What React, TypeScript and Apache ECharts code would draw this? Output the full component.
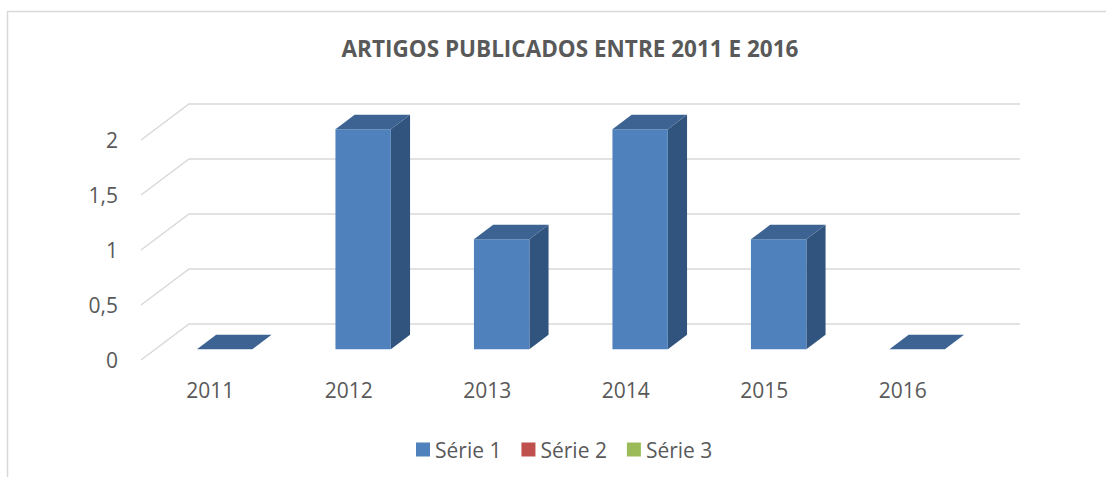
import React, { useEffect, useRef } from "react";
import * as echarts from "echarts";

const categories = ["2011", "2012", "2013", "2014", "2015", "2016"];
const serie1Values = [0, 2, 1, 2, 1, 0];
const serie2Values: number[] = [];
const serie3Values: number[] = [];
const yTicks = [0, 0.5, 1, 1.5, 2];
const seriesNames = ["Série 1", "Série 2", "Série 3"];
const titleText = "ARTIGOS PUBLICADOS ENTRE 2011 E 2016";

const DX = 48;
const DY = -36;
const FONT = "'Open Sans', sans-serif";
const TEXT = "#595959";

const BLUE = { front: "#4f81bd", side: "#31547e", top: "#3c6392" };
const RED = "#c0504d";
const GREEN = "#9bbb59";

function barRenderer(colors: { front: string; side: string; top: string }) {
  return (params: any, api: any) => {
    const i = api.value(0);
    const v = api.value(1);
    const base = api.coord([i, 0]);
    const topPt = api.coord([i, v]);
    const band = api.size([1, 0])[0];
    const w = band * 0.4;
    const ox = DX * 0.3, oy = DY * 0.3;
    const dx = DX * 0.4, dy = DY * 0.4;
    const x0 = base[0] + ox - w / 2;
    const x1 = x0 + w;
    const yb = base[1] + oy;
    const yt = topPt[1] + oy;
    return {
      type: "group",
      children: [
        {
          type: "polygon",
          shape: { points: [[x1, yt], [x1 + dx, yt + dy], [x1 + dx, yb + dy], [x1, yb]] },
          style: { fill: colors.side },
        },
        {
          type: "rect",
          shape: { x: x0, y: yt, width: w, height: yb - yt },
          style: { fill: colors.front },
        },
        {
          type: "polygon",
          shape: { points: [[x0, yt], [x1, yt], [x1 + dx, yt + dy], [x0 + dx, yt + dy]] },
          style: { fill: colors.top },
        },
      ],
    };
  };
}

export default function App() {
  const ref = useRef<HTMLDivElement>(null);
  useEffect(() => {
    if (!ref.current) return;
    const chart = echarts.init(ref.current, null, { renderer: "svg" });
    chart.setOption({
      animation: false,
      backgroundColor: "#ffffff",
      title: {
        text: titleText,
        left: 565,
        top: 32,
        textAlign: "center",
        textStyle: { fontFamily: FONT, fontSize: 22.5, fontWeight: "bold", color: TEXT },
      },
      graphic: [
        {
          type: "rect",
          shape: { x: 7.5, y: 11.5, width: 1300, height: 700 },
          style: { fill: "none", stroke: "#d9d9d9", lineWidth: 1.5 },
          silent: true,
        },
      ],
      legend: {
        left: 411,
        top: 434,
        itemWidth: 14,
        itemHeight: 14,
        itemGap: 20,
        icon: "rect",
        textStyle: { fontFamily: FONT, fontSize: 21, color: TEXT },
        data: seriesNames,
      },
      grid: { left: 141, right: 134, top: 140, bottom: 117 },
      xAxis: {
        type: "category",
        data: categories,
        axisLine: { show: false },
        axisTick: { show: false },
        axisLabel: { fontFamily: FONT, fontSize: 21, color: TEXT, margin: 19 },
        splitLine: { show: false },
      },
      yAxis: {
        type: "value",
        min: 0,
        max: 2,
        interval: 0.5,
        axisLine: { show: false },
        axisTick: { show: false },
        splitLine: { show: false },
        axisLabel: {
          fontFamily: FONT,
          fontSize: 21,
          color: TEXT,
          margin: 23,
          formatter: (v: number) => String(v).replace(".", ","),
        },
      },
      series: [
        {
          type: "custom",
          name: "grid3d",
          silent: true,
          z: 1,
          data: yTicks.map((v) => [0, v]),
          renderItem: (params: any, api: any) => {
            const cs = params.coordSys;
            const y = api.coord([0, api.value(1)])[1];
            return {
              type: "polyline",
              shape: { points: [[cs.x, y], [cs.x + DX, y + DY], [cs.x + cs.width + DX, y + DY]] },
              style: { stroke: "#d9d9d9", lineWidth: 1.5, fill: "none" },
            };
          },
        },
        {
          type: "custom",
          name: seriesNames[0],
          z: 2,
          itemStyle: { color: BLUE.front },
          data: serie1Values.map((v, i) => [i, v]),
          renderItem: barRenderer(BLUE),
        },
        {
          type: "custom",
          name: seriesNames[1],
          z: 2,
          itemStyle: { color: RED },
          data: serie2Values.map((v, i) => [i, v]),
          renderItem: barRenderer({ front: RED, side: RED, top: RED }),
        },
        {
          type: "custom",
          name: seriesNames[2],
          z: 2,
          itemStyle: { color: GREEN },
          data: serie3Values.map((v, i) => [i, v]),
          renderItem: barRenderer({ front: GREEN, side: GREEN, top: GREEN }),
        },
      ],
    });
    return () => chart.dispose();
  }, []);
  return (
    <div
      ref={ref}
      style={{ position: "fixed", left: 0, top: 0, width: 1106, height: 477, background: "#fff" }}
    />
  );
}
